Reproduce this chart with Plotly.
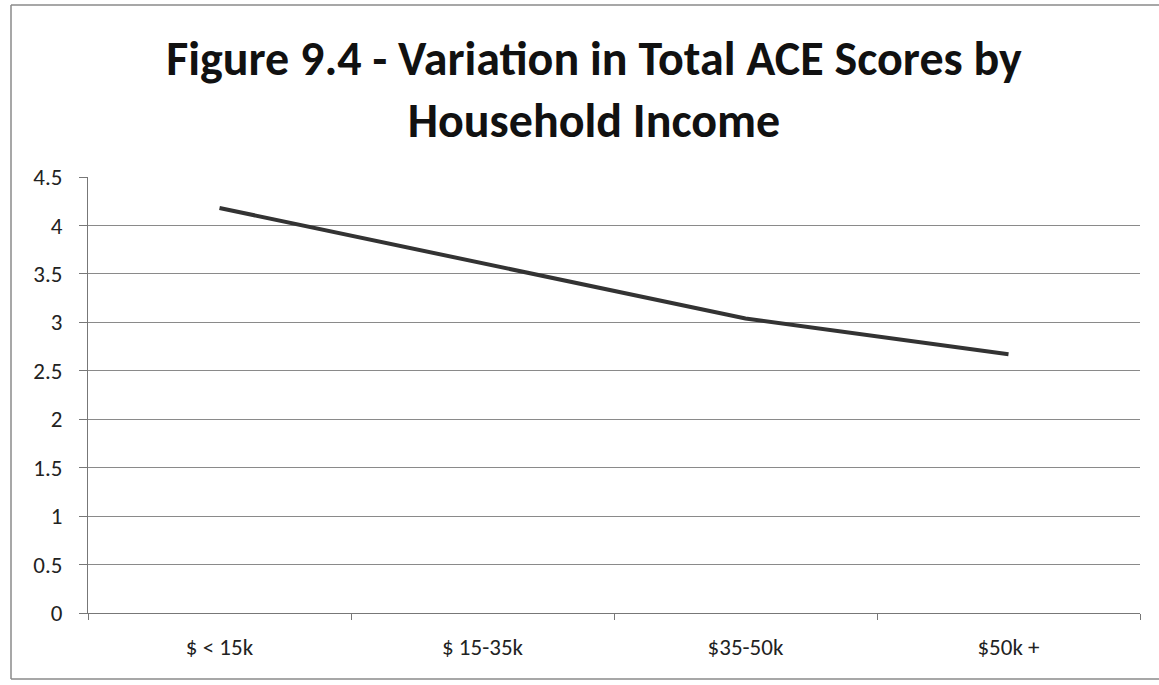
import plotly.graph_objects as go

categories = ["$ < 15k", "$ 15-35k", "$35-50k", "$50k +"]
ace_scores = [4.18, 3.61, 3.04, 2.67]
y_ticks = [0, 0.5, 1, 1.5, 2, 2.5, 3, 3.5, 4, 4.5]
title_text = "Figure 9.4 - Variation in Total ACE Scores by<br>Household Income"

W, H = 1159, 685
ml, mr, mt, mb = 88, 19, 177, 72
pw, ph = W - ml - mr, H - mt - mb

def px_x(x):
    return (x - ml) / pw

def px_y(y):
    return (H - mb - y) / ph

fig = go.Figure()
fig.add_trace(go.Scatter(
    x=categories, y=ace_scores, mode="lines",
    line=dict(color="#333333", width=4),
    showlegend=False, hoverinfo="skip",
))

font_fam = "Carlito, 'Liberation Sans Narrow', 'Open Sans', sans-serif"

fig.update_layout(
    width=W, height=H,
    margin=dict(l=ml, r=mr, t=mt, b=mb),
    paper_bgcolor="white", plot_bgcolor="white",
    title=dict(
        text="<b>" + title_text + "</b>",
        x=594 / W, xanchor="center", xref="container",
        y=1 - 75 / H, yanchor="top", yref="container",
        font=dict(family=font_fam, size=48, color="#111111"),
    ),
    font=dict(family=font_fam, size=23, color="#222222"),
    xaxis=dict(
        type="category", tickson="boundaries", ticks="outside", ticklen=6,
        tickcolor="#777777", showline=True, linecolor="#777777", linewidth=1,
        showgrid=False, tickfont=dict(size=23, color="#222222"), ticklabelstandoff=13,
        range=[-0.5, 3.5],
    ),
    yaxis=dict(
        range=[0, 4.5], tickvals=y_ticks, ticktext=[f"{v:g}" for v in y_ticks],
        ticks="outside", ticklen=8, tickcolor="#777777",
        showline=True, linecolor="#777777", linewidth=1,
        showgrid=True, gridcolor="#8a8a8a", gridwidth=1, zeroline=False,
        tickfont=dict(size=23, color="#222222"), ticklabelstandoff=12,
    ),
)

# outer chart border
bx0, bx1, by0, by1 = 11, 1165, 5, 679
for (x0, y0, x1, y1) in [(bx0, by0, bx1, by0), (bx0, by1, bx1, by1), (bx0, by0, bx0, by1)]:
    fig.add_shape(type="line", xref="paper", yref="paper",
                  x0=px_x(x0), y0=px_y(y0), x1=px_x(x1), y1=px_y(y1),
                  line=dict(color="#8a8a8a", width=1.5))

fig.write_html("out.html", config={"displayModeBar": False},
               post_script="document.body.style.margin='0';")
